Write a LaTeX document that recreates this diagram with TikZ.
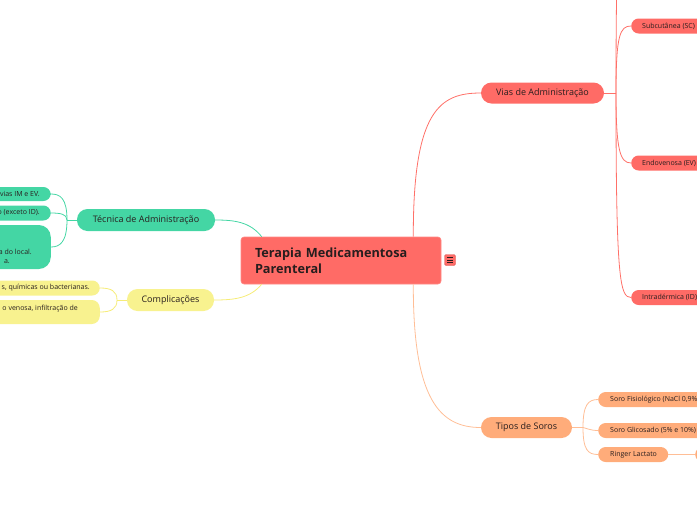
\documentclass[tikz,border=0pt]{standalone}
\usepackage{fontspec}
\setmainfont{Open Sans}
\definecolor{cred}{RGB}{255,107,102}
\definecolor{cora}{RGB}{255,172,122}
\definecolor{cgrn}{RGB}{68,214,164}
\definecolor{cyel}{RGB}{248,242,143}
\definecolor{lred}{RGB}{255,112,104}
\definecolor{lora}{RGB}{255,190,150}
\definecolor{lgrn}{RGB}{68,214,164}
\definecolor{lyel}{RGB}{246,236,120}
\definecolor{txt}{RGB}{40,30,30}
\begin{document}
\begin{tikzpicture}[x=1pt,y=-1pt,
  central/.style={rectangle, rounded corners=3pt, fill=cred, draw=cred!80!white, line width=0.6pt,
    minimum width=200pt, minimum height=47pt, inner xsep=14pt, text width=172pt, align=left,
    font=\fontsize{12.7}{16.5}\selectfont\bfseries, text=txt},
  main/.style={rectangle, rounded corners=10.5pt, minimum height=21pt, inner sep=0pt,
    font=\fontsize{9}{10}\selectfont, text=txt},
  sub/.style={rectangle, rounded corners=7.5pt, minimum height=15pt, inner sep=0pt},
  subtxt/.style={inner sep=0pt, font=\fontsize{7}{9.5}\selectfont, text=txt},
  lnk/.style={line width=0.8pt}
]
\useasboundingbox (0,0) rectangle (697,520);
\clip (0,0) rectangle (697,520);

% central
\node[central] (root) at (341,260.5) {Terapia Medicamentosa\\Parenteral};
\node[rectangle, rounded corners=1.5pt, fill=cred, draw=cred!85!black, line width=0.4pt, minimum width=11pt, minimum height=11pt, inner sep=0pt] (icon) at (450,260) {};
\draw[line width=0.7pt, txt] ([xshift=-2.8pt,yshift=-2.3pt]icon.center) -- ([xshift=2.8pt,yshift=-2.3pt]icon.center)
  ([xshift=-2.8pt]icon.center) -- ([xshift=2.8pt]icon.center)
  ([xshift=-2.8pt,yshift=2.3pt]icon.center) -- ([xshift=2.8pt,yshift=2.3pt]icon.center);

% main branches
\node[main, fill=cred, minimum width=123pt] (vias) at (542.5,93) {Vias de Administração};
\node[main, fill=cora, minimum width=91pt] (tipos) at (526.5,427.5) {Tipos de Soros};
\node[main, fill=cgrn, minimum width=138pt, minimum height=22pt] (tec) at (146,220) {Técnica de Administração};
\node[main, fill=cyel, minimum width=87pt, minimum height=22pt] (comp) at (170.5,300) {Complicações};

% root connectors
\draw[lnk, lred] ([xshift=-28pt]root.north east) .. controls (413,110) and (440,93) .. (vias.west);
\draw[lnk, lora] ([xshift=-28pt]root.south east) .. controls (413,400) and (440,427.5) .. (tipos.west);
\draw[lnk, lgrn] ([xshift=21pt]root.north west) .. controls (250,222) and (235,220) .. (tec.east);
\draw[lnk, lyel] ([xshift=21pt]root.south west) .. controls (250,298) and (235,300) .. (comp.east);

% Vias children
\node[sub, fill=cred, minimum width=150pt, anchor=west] (sc) at (631,26) {};
\node[subtxt, anchor=west] (sct) at (642,26) {Subcutânea (SC)};
\node[sub, fill=cred, minimum width=150pt, anchor=west] (ev) at (631,163) {};
\node[subtxt, anchor=west] (evt) at (642,163) {Endovenosa (EV)};
\node[sub, fill=cred, minimum width=150pt, anchor=west] (id) at (631,297.5) {};
\node[subtxt, anchor=west] (idt) at (642,297.5) {Intradérmica (ID)};
\coordinate (vj) at (616,93);
\coordinate (vtop) at (631,-110);
\draw[lnk, lred] (vias.east) -- (vj);
\draw[lnk, lred] (vj) .. controls (616,-90) and (620,-110) .. (vtop);
\draw[lnk, lred] (vj) .. controls (616,35) and (620,26) .. (sc.west);
\draw[lnk, lred] (vj) .. controls (616,150) and (620,163) .. (ev.west);
\draw[lnk, lred] (vj) .. controls (616,280) and (620,297.5) .. (id.west);

% Tipos children
\node[sub, fill=cora, minimum width=150pt, anchor=west] (fis) at (598,399.5) {};
\node[subtxt, anchor=west] (fist) at (610,399.5) {Soro Fisiológico (NaCl 0,9\%)};
\node[sub, fill=cora, minimum width=150pt, anchor=west] (gli) at (598,430.5) {};
\node[subtxt, anchor=west] (glit) at (610,430.5) {Soro Glicosado (5\% e 10\%)};
\node[sub, fill=cora, minimum width=70pt, anchor=west] (rin) at (598,454.5) {};
\node[subtxt, anchor=west] (rint) at (610,454.5) {Ringer Lactato};
\node[sub, fill=cora, minimum width=60pt, anchor=west] (rinc) at (695,454.5) {};
\coordinate (tj) at (583,427.5);
\draw[lnk, lora] (tipos.east) -- (tj);
\draw[lnk, lora] (tj) .. controls (583,405) and (588,399.5) .. (fis.west);
\draw[lnk, lora] (tj) .. controls (586,428) and (590,430.5) .. (gli.west);
\draw[lnk, lora] (tj) .. controls (583,450) and (588,454.5) .. (rin.west);
\draw[lnk, lora] (rin.east) -- (rinc.west);

% Tecnica children
\node[sub, fill=cgrn, minimum width=200pt, minimum height=14pt, anchor=east] (t1) at (51,194) {};
\node[subtxt, anchor=east] (t1t) at (40,194) {vias IM e EV.};
\node[sub, fill=cgrn, minimum width=200pt, minimum height=15pt, anchor=east] (t2) at (51,213) {};
\node[subtxt, anchor=east] (t2t) at (40,213) {o (exceto ID).};
\node[rectangle, rounded corners=12pt, fill=cgrn, minimum width=200pt, minimum height=44pt, anchor=east] (t3) at (51,247) {};
\node[subtxt, anchor=east] (t3a) at (32,252) {a do local.};
\node[subtxt, anchor=east] (t3b) at (10,262) {a.};
\coordinate (gj) at (67,220);
\draw[lnk, lgrn] (tec.west) -- (gj);
\draw[lnk, lgrn] (gj) .. controls (67,198) and (60,194) .. (t1.east);
\draw[lnk, lgrn] (gj) .. controls (67,214) and (60,213) .. (t2.east);
\draw[lnk, lgrn] (gj) .. controls (67,242) and (60,247) .. (t3.east);

% Complicacoes children
\node[sub, fill=cyel, minimum width=200pt, minimum height=15pt, anchor=east] (c1) at (100,288) {};
\node[subtxt, anchor=east] (c1t) at (90,288) {s, químicas ou bacterianas.};
\node[rectangle, rounded corners=8pt, fill=cyel, minimum width=200pt, minimum height=24pt, anchor=east] (c2) at (100,312) {};
\node[subtxt, anchor=east] (c2t) at (78,308.5) {o venosa, infiltração de};
\coordinate (yj) at (117,300);
\draw[lnk, lyel] (comp.west) -- (yj);
\draw[lnk, lyel] (yj) .. controls (117,291) and (111,288) .. (c1.east);
\draw[lnk, lyel] (yj) .. controls (117,309) and (111,312) .. (c2.east);
\end{tikzpicture}
\end{document}
